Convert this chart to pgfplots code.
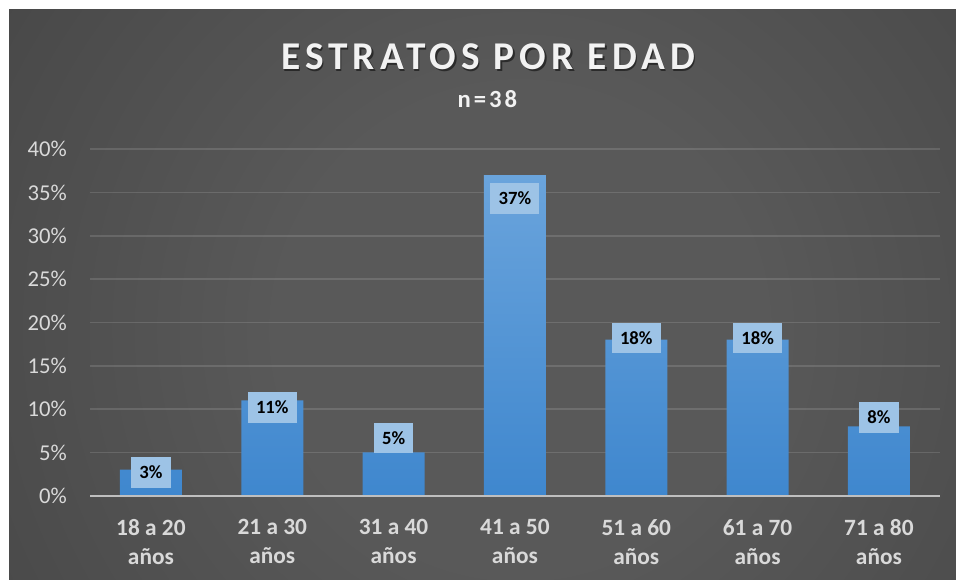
\documentclass[border=0pt]{standalone}
\usepackage{pgfplots}
\pgfplotsset{compat=1.18}
\usepackage{fontspec}
\setmainfont{Carlito}
\definecolor{bgA}{HTML}{595959}
\definecolor{bgB}{HTML}{4A4A4A}
\definecolor{bgC}{HTML}{353535}
\definecolor{bgD}{HTML}{222222}
\definecolor{barTop}{HTML}{6AA4DC}
\definecolor{barBot}{HTML}{3F87CE}
\definecolor{lblue}{HTML}{9DC3E6}
\definecolor{txt}{HTML}{D9D9D9}
\definecolor{axl}{HTML}{BFBFBF}
\pgfdeclareradialshading{bgrad}{\pgfpoint{0bp}{0bp}}{color(0bp)=(bgA); color(10bp)=(bgA); color(24bp)=(bgB); color(38bp)=(bgC); color(50bp)=(bgD)}
\begin{document}
\begin{tikzpicture}[x=1pt,y=1pt]
\useasboundingbox (0,0) rectangle (717,435);
\fill[white] (0,0) rectangle (717,435);
\begin{scope}
\clip (6.75,0) rectangle (717,427.5);
\shade[shading=bgrad] (-60,-262.5) rectangle (840,637.5);
\end{scope}
\node[anchor=base, text=black, opacity=0.5, font=\bfseries\fontsize{29.5}{34}\selectfont\addfontfeatures{LetterSpace=13}] at (367.2,381.3) {ESTRATOS POR EDAD};
\node[anchor=base, text=white!95!black, font=\bfseries\fontsize{29.5}{34}\selectfont\addfontfeatures{LetterSpace=13}] at (366,382.5) {ESTRATOS POR EDAD};
\node[anchor=base, text=white!95!black, font=\bfseries\fontsize{18.5}{22}\selectfont\addfontfeatures{LetterSpace=12}] at (365.5,354) {n=38};
\begin{axis}[
  at={(67.7pt,63.2pt)}, anchor=south west,
  scale only axis, width=637pt, height=260pt,
  xmin=-0.5, xmax=6.5, ymin=0, ymax=40,
  axis line style={draw=none},
  major tick length=0pt,
  xtick={0,1,2,3,4,5,6},
  xticklabels={{18 a 20\\años},{21 a 30\\años},{31 a 40\\años},{41 a 50\\años},{51 a 60\\años},{61 a 70\\años},{71 a 80\\años}},
  xticklabel style={align=center, anchor=north, inner sep=0pt, yshift=-17.5pt, text=txt, font=\bfseries\fontsize{17.5}{21.75}\selectfont},
  ytick={0,5,10,15,20,25,30,35,40},
  yticklabels={0\%,5\%,10\%,15\%,20\%,25\%,30\%,35\%,40\%},
  yticklabel style={anchor=east, inner sep=0pt, xshift=-17.4pt, text=txt, font=\fontsize{17}{20}\selectfont},
  ymajorgrids,
  grid style={draw=white, opacity=0.13, line width=1.2pt},
  clip=false,
]
\addplot[ybar, bar width=46.5pt, draw=none, top color=barTop, bottom color=barBot] coordinates {
 (0,3) (1,11) (2,5) (3,37) (4,18) (5,18) (6,8)};
\draw[axl, line width=1.5pt] (axis cs:-0.5,0) -- (axis cs:6.5,0);
\addplot[draw=none, mark=none, point meta=explicit symbolic, nodes near coords,
  nodes near coords style={anchor=center, fill=lblue, text=black, inner xsep=6.2pt, inner ysep=0pt, minimum height=23pt, font=\bfseries\fontsize{14}{16}\selectfont}]
 coordinates {
 (0,2.68) [3\%]
 (1,10.18) [11\%]
 (2,6.66) [5\%]
 (3,34.3) [37\%]
 (4,18.2) [18\%]
 (5,18.2) [18\%]
 (6,9.02) [8\%]
 };
\end{axis}
\end{tikzpicture}
\end{document}
